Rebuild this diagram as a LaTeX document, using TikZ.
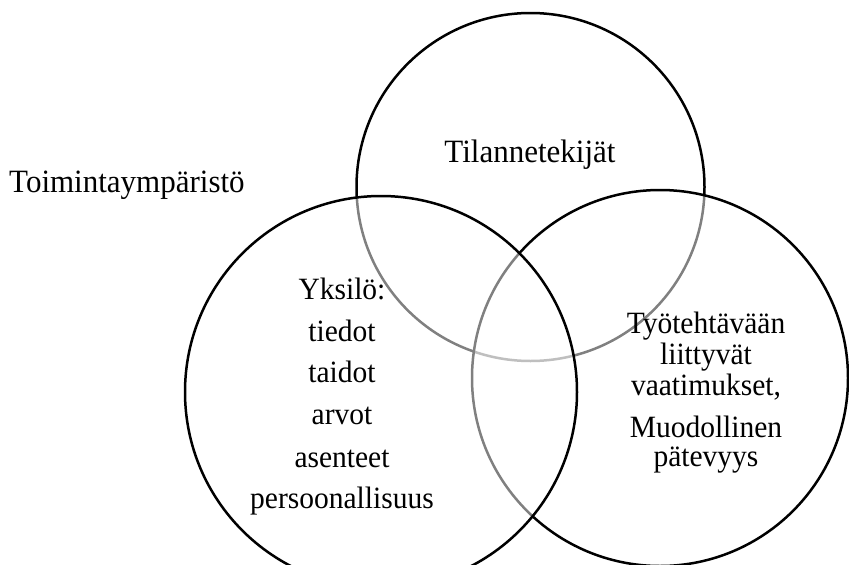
\documentclass[tikz,border=0pt]{standalone}
\usepackage{fontspec}
\setmainfont{Liberation Serif}
\newcommand{\tallt}[1]{\scalebox{1}[1.05]{#1}}
\begin{document}
\begin{tikzpicture}[x=1pt,y=-1pt,
  venn/.style={draw=black,line width=2.5pt,fill=white,fill opacity=0.5},
  lbl/.style={inner sep=0pt,anchor=base,font=\fontsize{29.5}{34}\selectfont},
  big/.style={inner sep=0pt,anchor=base,font=\fontsize{31}{36}\selectfont}]
\useasboundingbox (0,0) rectangle (849,565);
\clip (0,0) rectangle (849,565);
\draw[venn] (530.5,187) circle[radius=174];
\draw[venn] (660,378) circle[radius=188];
\draw[venn] (381,392) circle[radius=196];
\node[big,anchor=base west] (env) at (9,192) {\tallt{Toimintaympäristö}};
\node[big] (sit) at (530,162) {\tallt{Tilannetekijät}};
\node[lbl] (ind1) at (342,299) {\tallt{Yksilö:}};
\node[lbl] (ind2) at (342,341) {\tallt{tiedot}};
\node[lbl] (ind3) at (342,382) {\tallt{taidot}};
\node[lbl] (ind4) at (342,424) {\tallt{arvot}};
\node[lbl] (ind5) at (342,467) {\tallt{asenteet}};
\node[lbl] (ind6) at (342,508) {\tallt{persoonallisuus}};
\node[lbl] (task1) at (706,333) {\tallt{Työtehtävään}};
\node[lbl] (task2) at (706,364) {\tallt{liittyvät}};
\node[lbl] (task3) at (706,395) {\tallt{vaatimukset,}};
\node[lbl] (task4) at (706,437) {\tallt{Muodollinen}};
\node[lbl] (task5) at (706,466) {\tallt{pätevyys}};
\end{tikzpicture}
\end{document}
